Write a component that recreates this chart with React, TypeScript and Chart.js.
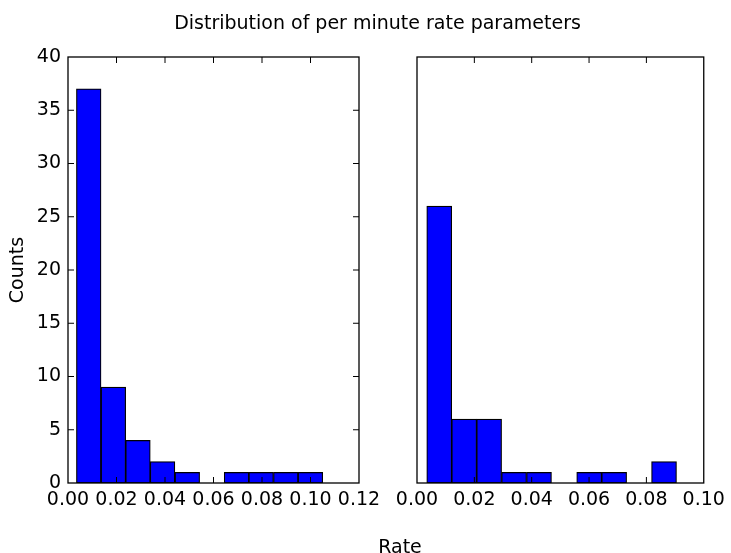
import React, { useEffect, useRef } from "react";
import { Chart, registerables } from "chart.js";

Chart.register(...registerables);

// ---- data ----
const FIG_TITLE = "Distribution of per minute rate parameters";
const X_LABEL = "Rate";
const Y_LABEL = "Counts";

const leftBinEdges = [0.0035, 0.0136, 0.0238, 0.0339, 0.0441, 0.0543, 0.0644, 0.0746, 0.0847, 0.0949, 0.105];
const leftCounts = [37, 9, 4, 2, 1, 0, 1, 1, 1, 1];

const rightBinEdges = [0.0034, 0.0121, 0.0208, 0.0295, 0.0382, 0.0469, 0.0557, 0.0644, 0.0731, 0.0818, 0.0905];
const rightCounts = [26, 6, 6, 1, 1, 0, 1, 1, 0, 2];

const leftXTicks = [0, 0.02, 0.04, 0.06, 0.08, 0.1, 0.12];
const rightXTicks = [0, 0.02, 0.04, 0.06, 0.08, 0.1];
const yTicks = [0, 5, 10, 15, 20, 25, 30, 35, 40];

// ---- style ----
const FONT_FAMILY = "'DejaVu Sans', 'Liberation Sans', sans-serif";
const FONT_SIZE = 19;
const BAR_FILL = "#0000ff";
const BAR_EDGE = "#000000";

Chart.defaults.font.family = FONT_FAMILY;
Chart.defaults.color = "#000";

const toPoints = (edges: number[], counts: number[]) =>
  counts
    .map((c, i) => ({ x: (edges[i] + edges[i + 1]) / 2, y: c }))
    .filter((p) => p.y > 0);

const frameTicksPlugin = {
  id: "frameTicks",
  afterDatasetsDraw(chart: any, _args: any, opts: any) {
    const { ctx, chartArea: a } = chart;
    const len = 6;
    ctx.save();
    ctx.strokeStyle = "#000";
    ctx.lineWidth = 1;
    ctx.beginPath();
    const xs = chart.scales.x;
    xs.ticks.forEach((t: any) => {
      const px = xs.getPixelForValue(t.value);
      if (px <= a.left + 0.5 || px >= a.right - 0.5) return;
      ctx.moveTo(px, a.bottom);
      ctx.lineTo(px, a.bottom - len);
      ctx.moveTo(px, a.top);
      ctx.lineTo(px, a.top + len);
    });
    if (opts && opts.yTicks) {
      const ys = chart.scales.y;
      ys.ticks.forEach((t: any) => {
        const py = ys.getPixelForValue(t.value);
        if (py <= a.top + 0.5 || py >= a.bottom - 0.5) return;
        ctx.moveTo(a.left, py);
        ctx.lineTo(a.left + len, py);
        ctx.moveTo(a.right, py);
        ctx.lineTo(a.right - len, py);
      });
    }
    ctx.stroke();
    ctx.lineWidth = 1.3;
    ctx.strokeRect(a.left, a.top, a.right - a.left, a.bottom - a.top);
    ctx.restore();
  },
};

const font = { family: FONT_FAMILY, size: FONT_SIZE, weight: "normal" as const };

const barDataset = (edges: number[], counts: number[]) => ({
  data: toPoints(edges, counts),
  backgroundColor: BAR_FILL,
  borderColor: BAR_EDGE,
  borderWidth: 1.2,
  borderSkipped: false,
  barPercentage: 1,
  categoryPercentage: 1,
});

const tickSetter = (arr: number[]) => (s: any) => {
  s.ticks = arr.map((v) => ({ value: v }));
};

export default function App() {
  const leftRef = useRef<HTMLCanvasElement>(null);
  const rightRef = useRef<HTMLCanvasElement>(null);

  useEffect(() => {
    const left = new Chart(leftRef.current as HTMLCanvasElement, {
      type: "bar",
      data: { datasets: [barDataset(leftBinEdges, leftCounts) as any] },
      plugins: [frameTicksPlugin],
      options: {
        responsive: false,
        animation: false,
        events: [],
        layout: { padding: { left: 0, right: 0, top: 57, bottom: 0 } },
        plugins: {
          legend: { display: false },
          tooltip: { enabled: false },
          title: {
            display: true,
            position: "bottom",
            text: X_LABEL,
            font,
            color: "#000",
            padding: { top: 0, bottom: 0.6 },
          },
          frameTicks: { yTicks: true },
        } as any,
        scales: {
          x: {
            type: "linear",
            min: 0,
            max: 0.12,
            offset: false,
            grid: { display: false, drawTicks: false, offset: false },
            border: { display: false },
            ticks: {
              font,
              color: "#000",
              padding: 6.1,
              autoSkip: false,
              maxRotation: 0,
              callback: (v: any) => Number(v).toFixed(2),
            },
            afterBuildTicks: tickSetter(leftXTicks),
            afterFit: (s: any) => {
              s.height = 53.6;
            },
          },
          y: {
            type: "linear",
            position: "left",
            min: 0,
            max: 40,
            grid: { display: false, drawTicks: false },
            border: { display: false },
            ticks: { font, color: "#000", padding: 7, callback: (v: any) => String(v) },
            afterBuildTicks: tickSetter(yTicks),
            title: { display: true, text: Y_LABEL, font, color: "#000", padding: { top: 6.2, bottom: 0 } },
            afterFit: (s: any) => {
              s.width = 68;
            },
          },
          yPad: {
            type: "linear",
            position: "right",
            display: true,
            grid: { display: false, drawTicks: false },
            border: { display: false },
            ticks: { display: false },
            afterFit: (s: any) => {
              s.width = 800 - 359;
            },
          },
        } as any,
      },
    });

    const right = new Chart(rightRef.current as HTMLCanvasElement, {
      type: "bar",
      data: { datasets: [barDataset(rightBinEdges, rightCounts) as any] },
      plugins: [frameTicksPlugin],
      options: {
        responsive: false,
        animation: false,
        events: [],
        layout: { padding: { left: 24, right: 0, top: 0, bottom: 0 } },
        plugins: {
          legend: { display: false },
          tooltip: { enabled: false },
          title: {
            display: true,
            position: "top",
            text: FIG_TITLE,
            font,
            color: "#000",
            padding: { top: 13.1, bottom: 21.1 },
          },
          frameTicks: { yTicks: false },
        } as any,
        scales: {
          x: {
            type: "linear",
            min: 0,
            max: 0.1,
            offset: false,
            grid: { display: false, drawTicks: false, offset: false },
            border: { display: false },
            ticks: {
              font,
              color: "#000",
              padding: 6.1,
              autoSkip: false,
              maxRotation: 0,
              callback: (v: any) => Number(v).toFixed(2),
            },
            afterBuildTicks: tickSetter(rightXTicks),
            afterFit: (s: any) => {
              s.height = 553 - 483;
            },
          },
          y: {
            type: "linear",
            position: "left",
            min: 0,
            max: 40,
            grid: { display: false, drawTicks: false },
            border: { display: false },
            ticks: { display: false },
            afterBuildTicks: tickSetter(yTicks),
            afterFit: (s: any) => {
              s.width = 417 - 24;
            },
          },
          yPad: {
            type: "linear",
            position: "right",
            display: true,
            grid: { display: false, drawTicks: false },
            border: { display: false },
            ticks: { display: false },
            afterFit: (s: any) => {
              s.width = 731 - 708;
            },
          },
        } as any,
      },
    });

    return () => {
      left.destroy();
      right.destroy();
    };
  }, []);

  return (
    <div
      style={{
        position: "absolute",
        left: 0,
        top: 0,
        width: 731,
        height: 553,
        overflow: "hidden",
        background: "#fff",
      }}
    >
      <canvas ref={leftRef} width={800} height={560} style={{ position: "absolute", left: 0, top: 0 }} />
      <canvas ref={rightRef} width={731} height={553} style={{ position: "absolute", left: 0, top: 0 }} />
    </div>
  );
}
